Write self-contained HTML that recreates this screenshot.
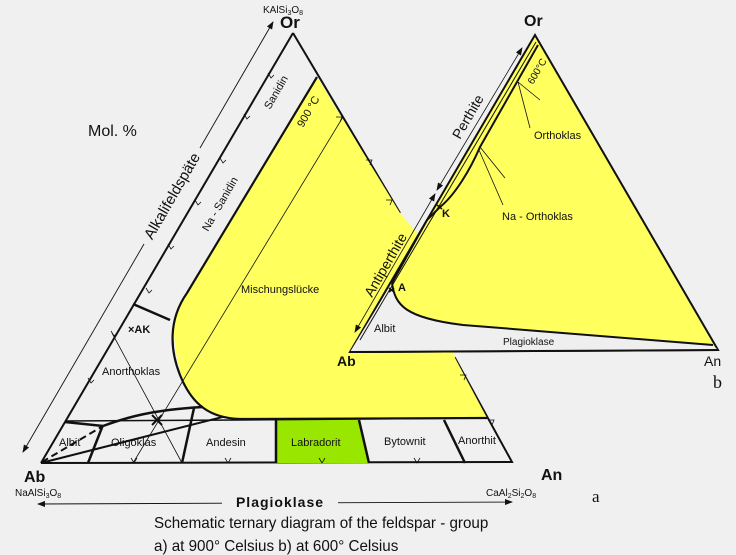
<!DOCTYPE html>
<html><head><meta charset="utf-8"><style>
body{margin:0;background:#f0f0f0;}
svg{display:block;}
text{font-family:"Liberation Sans",sans-serif;fill:#111;}
text.serif{font-family:"Liberation Serif",serif;}
</style></head><body>
<svg width="736" height="555" viewBox="0 0 736 555" xmlns="http://www.w3.org/2000/svg">
<rect width="736" height="555" fill="#f0f0f0"/>
<defs>
<marker id="ah" markerWidth="8" markerHeight="6" refX="7" refY="3" orient="auto" markerUnits="userSpaceOnUse"><path d="M0,0 L8,3 L0,6 z" fill="#111"/></marker>
<marker id="as" markerWidth="8" markerHeight="6" refX="1" refY="3" orient="auto" markerUnits="userSpaceOnUse"><path d="M8,0 L0,3 L8,6 z" fill="#111"/></marker>
</defs>
<!-- Left triangle -->
<path d="M293,33 L400,213 M455,358 L512,462 L41,463 Z" fill="none" stroke="#111" stroke-width="2"/>
<path d="M293,33 L41,463" stroke="#111" stroke-width="2"/>
<!-- yellow region left -->
<path d="M317,77 L400,213 L440,260 L455,358 L487,418 L240,419 C205,418 185,400 180,370 C172,340 170,310 187,293 Z" fill="#ffff5e" stroke="none"/>
<path d="M317,77 L187,293 C168,320 170,350 180,375 C192,405 210,418 240,419 L487,418" fill="none" stroke="#111" stroke-width="2.2"/>
<!-- labradorit -->
<path d="M276,420 L359,420 L369,463 L276,463 Z" fill="#99e600"/>
<!-- bottom band -->
<path d="M65,421 L240,420" stroke="#111" stroke-width="1.5"/>
<path d="M240,420 L487,418" stroke="#111" stroke-width="1.5"/>
<path d="M88,463 L103,425" stroke="#111" stroke-width="2.5"/>
<path d="M182,463 L194,408" stroke="#111" stroke-width="2.5"/>
<path d="M276,463 L276,420" stroke="#111" stroke-width="2.5"/>
<path d="M369,463 L359,420" stroke="#111" stroke-width="2.5"/>
<path d="M465,463 L444,420" stroke="#111" stroke-width="2.5"/>
<path d="M65,422 L103,426 C125,418 150,410 203,407" fill="none" stroke="#111" stroke-width="2.5"/>
<path d="M42,462 L103,426" stroke="#111" stroke-width="2" stroke-dasharray="7,4"/>
<path d="M133,304 L170,320" stroke="#111" stroke-width="2.5"/>
<!-- thin lines -->
<path d="M343,117 L133,463 M112,333 L182,463" stroke="#111" stroke-width="0.8"/>
<path d="M152,415 L162,425 M162,415 L152,425" stroke="#111" stroke-width="2"/>
<!-- ticks -->
<g fill="none" stroke="#111" stroke-width="0.8">
<path d="M268,73 l3,5 l3,-3 M244,114 l3,5 l3,-3 M220,158 l3,5 l3,-3 M195,200 l3,5 l3,-3 M168,244 l3,5 l3,-3 M146,288 l3,5 l3,-3 M88,378 l3,5 l3,-3 M111,331 l3,5 l3,-3"/>
<path d="M336,117 l6,0 l-2,5 M366,160 l6,0 l-2,5 M386,200 l6,0 l-2,5 M460,375 l6,0 l-2,5 M488,420 l6,0 l-2,5"/>
<path d="M131,458 l3,5 l3,-5 M225,458 l3,5 l3,-5 M319,458 l3,5 l3,-5 M414,458 l3,5 l3,-5"/>
</g>
<!-- outer arrows -->
<path d="M144,244 L23,452" stroke="#111" stroke-width="0.9" marker-end="url(#ah)"/>
<path d="M200,148 L273,22" stroke="#111" stroke-width="0.9" marker-end="url(#ah)"/>
<text x="0" y="5" font-size="15" transform="translate(172,196) rotate(-60)" text-anchor="middle">Alkalifeldspäte</text>
<path d="M38,504 L512,502" stroke="#111" stroke-width="0.9" marker-end="url(#ah)" marker-start="url(#as)"/>
<rect x="222" y="494" width="116" height="16" fill="#f0f0f0"/>
<text x="280" y="507" font-size="14" font-weight="bold" text-anchor="middle" letter-spacing="1">Plagioklase</text>
<!-- Right triangle -->
<path d="M535,35 L718,350 L350,352 Z" fill="#ffff5e" stroke="#111" stroke-width="2"/>
<path d="M392,283 C395,305 405,318 463,325 L713,345 L718,350 L350,352 Z" fill="#efefef"/>
<path d="M392,283 C395,305 405,318 463,325 L713,345" fill="none" stroke="#111" stroke-width="2"/>
<path d="M350,352 L718,350" stroke="#111" stroke-width="2"/>
<path d="M538,45 L480,147 C470,170 455,195 440,207 L427,220 L392,283" fill="none" stroke="#111" stroke-width="2"/>
<path d="M536,42 L360,340" stroke="#111" stroke-width="1"/>
<path d="M522,48 L437,190" stroke="#111" stroke-width="0.8" marker-end="url(#ah)" marker-start="url(#as)"/>
<path d="M435,194 L355,332" stroke="#111" stroke-width="0.8" marker-end="url(#ah)" marker-start="url(#as)"/>
<path d="M518,82 L540,100 M480,147 L505,178" stroke="#111" stroke-width="0.8"/>
<path d="M479,150 L503,205" stroke="#111" stroke-width="0.8"/>
<path d="M518,82 L530,128" stroke="#111" stroke-width="0.8"/>
<path d="M437,205 l5,4 M442,205 l-5,4 M389,288 l5,4 M394,288 l-5,4" stroke="#111" stroke-width="1.5"/>
<!-- labels -->
<text x="263" y="13" font-size="10">KAlSi<tspan font-size="7" dy="2">3</tspan><tspan dy="-2">O</tspan><tspan font-size="7" dy="2">8</tspan></text>
<text x="280" y="28" font-size="17" font-weight="bold">Or</text>
<text x="88" y="136" font-size="16">Mol. %</text>
<text x="24" y="482" font-size="16" font-weight="bold">Ab</text>
<text x="15" y="496" font-size="10">NaAlSi<tspan font-size="7" dy="2">3</tspan><tspan dy="-2">O</tspan><tspan font-size="7" dy="2">8</tspan></text>
<text x="541" y="480" font-size="16" font-weight="bold">An</text>
<text x="486" y="496" font-size="10">CaAl<tspan font-size="7" dy="2">2</tspan><tspan dy="-2">Si</tspan><tspan font-size="7" dy="2">2</tspan><tspan dy="-2">O</tspan><tspan font-size="7" dy="2">8</tspan></text>
<text x="592" y="502" font-size="17" class="serif">a</text>
<text x="713" y="388" font-size="18" class="serif">b</text>
<g font-size="11">
<text transform="translate(270,110) rotate(-60)">Sanidin</text>
<text transform="translate(208,232) rotate(-60)">Na - Sanidin</text>
<text transform="translate(303,128) rotate(-60)">900 °C</text>
<text x="241" y="293">Mischungslücke</text>
<text x="128" y="333" font-weight="bold">×AK</text>
<text x="102" y="375">Anorthoklas</text>
<text x="59" y="446">Albit</text>
<text x="111" y="446">Oligoklas</text>
<text x="206" y="446">Andesin</text>
<text x="291" y="446">Labradorit</text>
<text x="384" y="445">Bytownit</text>
<text x="458" y="444">Anorthit</text>
<text x="524" y="26" font-size="16" font-weight="bold">Or</text>
<text transform="translate(460,140) rotate(-60)" font-size="14">Perthite</text>
<text transform="translate(533,85) rotate(-60)" font-size="10">600°C</text>
<text x="534" y="139">Orthoklas</text>
<text x="502" y="220">Na - Orthoklas</text>
<text x="442" y="217" font-weight="bold">K</text>
<text x="398" y="291" font-weight="bold">A</text>
<text transform="translate(372,298) rotate(-60)" font-size="14">Antiperthite</text>
<text x="374" y="332">Albit</text>
<text x="503" y="345" font-size="10">Plagioklase</text>
<text x="337" y="366" font-size="14" font-weight="bold">Ab</text>
<text x="704" y="366" font-size="14">An</text>
</g>
<g font-size="16" transform="translate(154,0) scale(0.95,1)">
<text x="0" y="528">Schematic ternary diagram of the feldspar - group</text>
<text x="0" y="551">a) at 900° Celsius  b) at 600° Celsius</text>
</g>
</svg>
</body></html>
